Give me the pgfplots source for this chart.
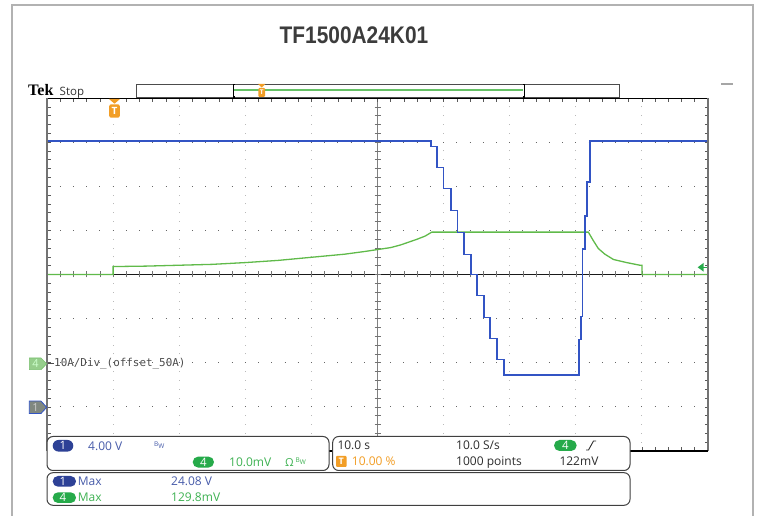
\documentclass[border=0pt]{standalone}
\usepackage{fontspec}
\setmainfont{Open Sans}
\newfontfamily\titlefont{Liberation Sans}
\newfontfamily\tekfont{Liberation Serif}
\newfontfamily\monofont{DejaVu Sans Mono}
\usepackage{graphicx}
\usepackage{pgfplots}
\pgfplotsset{compat=1.18}

\definecolor{scopeblue}{RGB}{50,84,196}
\definecolor{chonetext}{RGB}{72,92,170}
\definecolor{chonepill}{RGB}{45,65,150}
\definecolor{scopegreen}{RGB}{96,186,74}
\definecolor{chfourtext}{RGB}{62,178,82}
\definecolor{chfourpill}{RGB}{38,170,74}
\definecolor{tekorange}{RGB}{242,158,38}
\definecolor{textgray}{RGB}{45,45,45}
\definecolor{titlegray}{RGB}{60,60,60}

\begin{document}
\begin{tikzpicture}[x=1pt,y=1pt]
\path[use as bounding box] (0,0) rectangle (758,516);

% outer frame (open at the bottom)
\draw[gray!60, line width=1.2pt] (12,0) -- (12,511) -- (753,511) -- (753,0);

% title
\node[text=titlegray] at (354,481) {\titlefont\bfseries\fontsize{24}{24}\selectfont\scalebox{0.87}[1]{TF1500A24K01}};

% scope header
\node[anchor=base west, inner sep=0pt] at (28,420.7) {\tekfont\bfseries\fontsize{16}{16}\selectfont Tek};
\node[anchor=base west, inner sep=0pt, text=black!80] at (59.5,420.7) {\fontsize{11.5}{11.5}\selectfont Stop};

% record-length bar
\draw[black!70, line width=1pt, fill=white] (136,418.5) rectangle (619,431.7);
\draw[green!60!black!60!white, line width=1.2pt] (234,426) -- (523,426);
\draw[black, line width=1.4pt] (235,419) -- (233.3,419) -- (233.3,431.3) -- (235,431.3);
\draw[black, line width=1.4pt] (522.5,419) -- (524.2,419) -- (524.2,431.3) -- (522.5,431.3);
\fill[tekorange] (258,432) -- (265.4,432) -- (261.7,428.5) -- cycle;
\fill[tekorange, rounded corners=1pt] (258.4,419) rectangle (265,428);
\node[text=white, inner sep=0pt] at (261.7,423.5) {\bfseries\fontsize{6.5}{6.5}\selectfont T};

% small dash at the top right
\draw[gray!70, line width=1.3pt] (721,432) -- (733,432);

% dotted graticule: 10 x 8 divisions, 66.1pt by 44.125pt each
\foreach \i in {1,2,3,4,6,7,8,9}{
  \draw[gray!55, line width=0.9pt, dash pattern=on 0.9pt off 7.925pt, dash phase=0.45pt]
    ({47+66.1*\i},65) -- ({47+66.1*\i},418);
}
\foreach \j in {1,2,3,5,6,7}{
  \draw[black!60, line width=0.9pt, dash pattern=on 0.9pt off 12.32pt, dash phase=0.45pt]
    (47,{65+44.125*\j}) -- (708,{65+44.125*\j});
}
% centre cross with its tick marks
\draw[black!50, line width=1.6pt] (377.5,65) -- (377.5,418);
\draw[black!90, line width=1.2pt] (47,241.5) -- (708,241.5);
\foreach \i in {1,...,49}{
  \draw[black!55, line width=0.6pt] ({47+13.22*\i},238.5) -- ++(0,6);
}
\foreach \j in {1,...,39}{
  \draw[black!55, line width=0.6pt] (374.5,{65+8.825*\j}) -- ++(6,0);
}

\begin{axis}[
  at={(47pt,65pt)}, anchor=south west,
  scale only axis, width=661pt, height=353pt,
  xmin=-10, xmax=90, ymin=-4, ymax=4,
  xtick={-10,0,...,90}, ytick={-4,-3,...,4},
  minor x tick num=4, minor y tick num=4,
  xticklabels={}, yticklabels={},
  tick align=inside,
  major tick length=3.5pt, minor tick length=3.5pt,
  tick style={black!65, line width=0.6pt},
  axis line style={draw=none},
]
% channel 4 (current), in divisions
\addplot[draw=scopegreen, line width=1.3pt, mark=none] table[x=t, y=d] {
t     d
-10   0
0     0
0     0.18
5     0.19
10    0.21
15    0.23
20    0.27
25    0.32
30    0.39
35    0.46
38    0.52
42    0.61
43.5  0.67
46    0.80
47.2  0.87
48.2  0.96
71.9  0.96
72.6  0.78
73.4  0.59
74.4  0.46
75.7  0.34
77.7  0.27
79.7  0.21
80    0.21
80    0
90    0
};

% channel 1 (voltage), 4 V/div, ground three divisions below centre
\addplot[draw=scopeblue, line width=1.7pt, mark=none, y filter/.expression={y/4-3}] table[x=t, y=v] {
t     v
-10   24.08
48.1  24.08
48.1  23.6
49.0  23.6
49.0  21.7
50.0  21.7
50.0  19.8
51.1  19.8
51.1  17.8
52.1  17.8
52.1  15.8
53.1  15.8
53.1  13.8
54.1  13.8
54.1  12.0
55.1  12.0
55.1  10.1
56.1  10.1
56.1  8.1
57.0  8.1
57.0  6.2
58.1  6.2
58.1  4.3
59.1  4.3
59.1  2.9
70.5  2.9
70.5  6.1
70.8  6.1
70.8  8.2
71.0  8.2
71.0  14.3
71.4  14.3
71.4  17.3
71.7  17.3
71.7  20.4
72.1  20.4
72.1  24.08
90    24.08
};
\end{axis}

% graticule border
\draw[black, line width=0.8pt] (47,418) -- (708,418);
\draw[black!55, line width=1.6pt] (47,65) -- (47,418);
\draw[black!55, line width=1.8pt] (708,65) -- (708,418);
\draw[black, line width=1.8pt] (47,65) -- (708,65);

% trigger position marker
\fill[tekorange] (109,417) -- (120,417) -- (114.5,412.3) -- cycle;
\fill[tekorange, rounded corners=2pt] (109.2,398.3) rectangle (119.8,411.7);
\node[text=white, inner sep=0pt] at (114.5,405) {\bfseries\fontsize{10}{10}\selectfont T};

% trigger level marker
\fill[chfourpill] (697.7,248.7) -- (703.5,253) -- (703.5,244.4) -- cycle;
\draw[chfourpill, line width=1.2pt] (703,248.7) -- (707,248.7);

% channel position markers
\filldraw[fill={rgb,255:red,150;green,206;blue,140}, draw={rgb,255:red,120;green,192;blue,110}, line width=0.6pt]
  (29.3,146.3) -- (41,146.3) -- (46.7,152.2) -- (41,158) -- (29.3,158) -- cycle;
\node[text=white!80!green, inner sep=0pt] at (35.5,152.2) {\fontsize{11}{11}\selectfont 4};
\draw[black!70, line width=0.8pt] (47.5,152.7) -- (53.5,152.7);
\node[anchor=west, inner sep=0pt, text=black!70] at (54,152.7) {\monofont\fontsize{10.9}{10.9}\selectfont 10A/Div\_(offset\_50A)};

\filldraw[fill={rgb,255:red,128;green,136;blue,128}, draw=scopeblue, line width=0.8pt]
  (29.3,102.5) -- (41,102.5) -- (46.7,108.7) -- (41,114.9) -- (29.3,114.9) -- cycle;
\node[text=black!20, inner sep=0pt] at (35.5,108.7) {\fontsize{11}{11}\selectfont 1};

% readout boxes
\draw[black!75, line width=1pt, fill=white, rounded corners=6pt] (47,45.5) rectangle (329,79.5);
\draw[black!75, line width=1pt, fill=white, rounded corners=6pt] (332.7,45.5) rectangle (630,79.5);
\draw[black!75, line width=1pt, fill=white, rounded corners=6pt] (47,10.7) rectangle (630,43.3);

% vertical settings
\fill[chonepill, rounded corners=5.8pt] (52.7,64.4) rectangle (73.3,76);
\node[text=white, inner sep=0pt] at (63,70.2) {\fontsize{11.5}{11.5}\selectfont 1};
\node[anchor=base west, inner sep=0pt, text=chonetext] at (88,65.7) {\fontsize{12}{12}\selectfont 4.00 V};
\node[anchor=base west, inner sep=0pt, text=chonetext] at (154,69) {\fontsize{6.5}{6.5}\selectfont B\raisebox{-2pt}{W}};
\fill[chfourpill, rounded corners=5.5pt] (192.7,48.4) rectangle (214,59.4);
\node[text=white, inner sep=0pt] at (203.3,53.9) {\fontsize{11.5}{11.5}\selectfont 4};
\node[anchor=base west, inner sep=0pt, text=chfourtext] at (229,49.7) {\fontsize{12}{12}\selectfont 10.0mV};
\node[anchor=base west, inner sep=0pt, text=chfourtext] at (285,49.7) {\fontsize{11}{11}\selectfont Ω};
\node[anchor=base west, inner sep=0pt, text=chfourtext] at (295.5,53) {\fontsize{6.5}{6.5}\selectfont B\raisebox{-2pt}{W}};

% horizontal and trigger settings
\node[anchor=base west, inner sep=0pt, text=textgray] at (337.3,66.7) {\fontsize{12}{12}\selectfont 10.0 s};
\node[anchor=base west, inner sep=0pt, text=textgray] at (456,66.7) {\fontsize{12}{12}\selectfont 10.0 S/s};
\fill[chfourpill, rounded corners=5.5pt] (554,65) rectangle (576.7,76);
\node[text=white, inner sep=0pt] at (565.3,70.5) {\fontsize{11.5}{11.5}\selectfont 4};
\draw[textgray, line width=0.9pt] (586,66) -- (588.5,66) -- (593.5,75) -- (596,75);
\fill[tekorange, rounded corners=1pt] (336,49) rectangle (346.7,60);
\node[text=white, inner sep=0pt] at (341.3,54.5) {\bfseries\fontsize{9}{9}\selectfont T};
\node[anchor=base west, inner sep=0pt, text=tekorange] at (351.7,50) {\fontsize{12}{12}\selectfont 10.00 \%};
\node[anchor=base west, inner sep=0pt, text=textgray] at (456,50) {\fontsize{12}{12}\selectfont 1000 points};
\node[anchor=base west, inner sep=0pt, text=textgray] at (559.3,50) {\fontsize{12}{12}\selectfont 122mV};

% measurements
\fill[chonepill, rounded corners=5.3pt] (52.7,29.3) rectangle (76,40);
\node[text=white, inner sep=0pt] at (63,34.6) {\fontsize{11.5}{11.5}\selectfont 1};
\node[anchor=base west, inner sep=0pt, text=chonetext] at (77.7,30.2) {\fontsize{12}{12}\selectfont Max};
\node[anchor=base west, inner sep=0pt, text=chonetext] at (171,30.2) {\fontsize{12}{12}\selectfont 24.08 V};
\fill[chfourpill, rounded corners=5.3pt] (52.7,13) rectangle (76,23.7);
\node[text=white, inner sep=0pt] at (63,18.3) {\fontsize{11.5}{11.5}\selectfont 4};
\node[anchor=base west, inner sep=0pt, text=chfourtext] at (77.7,14) {\fontsize{12}{12}\selectfont Max};
\node[anchor=base west, inner sep=0pt, text=chfourtext] at (171,14) {\fontsize{12}{12}\selectfont 129.8mV};
\end{tikzpicture}
\end{document}
